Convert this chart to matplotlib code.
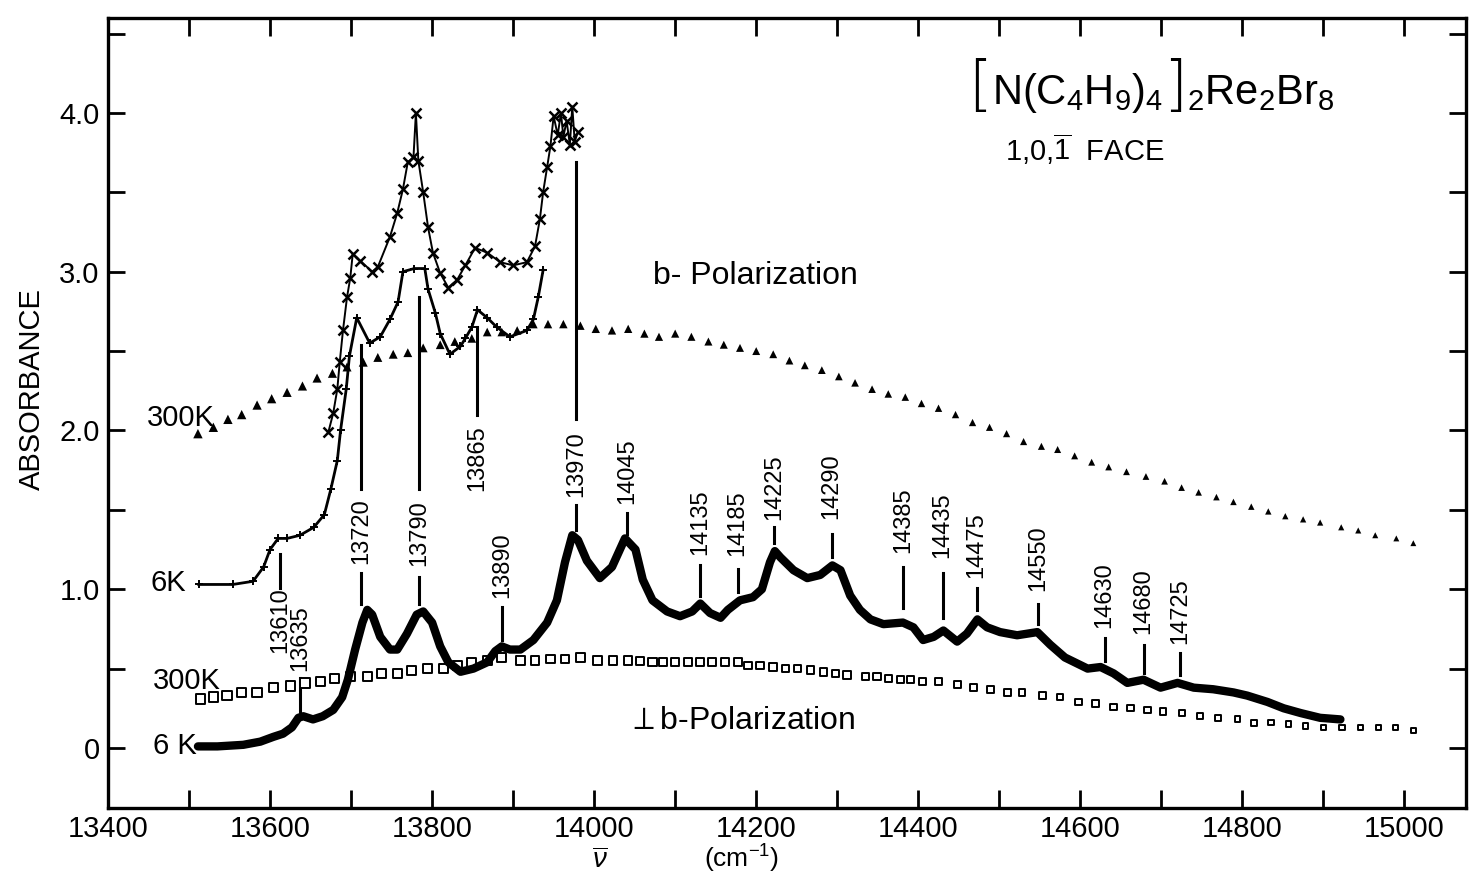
import matplotlib
matplotlib.use('Agg')
import matplotlib.pyplot as plt
import numpy as np
from matplotlib.ticker import MultipleLocator
from matplotlib.offsetbox import TextArea, HPacker, AnnotationBbox

plt.rcParams['font.family'] = ['Liberation Sans', 'DejaVu Sans']
plt.rcParams['mathtext.fontset'] = 'custom'
plt.rcParams['mathtext.rm'] = 'Liberation Sans'
plt.rcParams['mathtext.it'] = 'Liberation Sans:italic'
plt.rcParams['mathtext.bf'] = 'Liberation Sans:bold'

# ---------------- data (wavenumber cm^-1, absorbance) ----------------
bpol_300K_x = [13511, 13530, 13548, 13565, 13584, 13602, 13621, 13640, 13658, 13677, 13695,
               13715, 13733, 13752, 13770, 13789, 13810, 13828, 13849, 13868, 13886, 13905,
               13925, 13943, 13962, 13983, 14002, 14022, 14042, 14062, 14080, 14100, 14120,
               14141, 14160, 14180, 14200, 14221, 14241, 14260, 14281, 14302, 14322, 14343,
               14363, 14384, 14404, 14425, 14446, 14467, 14488, 14509, 14530, 14552,
               14572, 14593, 14614, 14635, 14657, 14681, 14704, 14725, 14746, 14768,
               14789, 14811, 14832, 14853, 14875, 14896, 14922, 14943, 14964, 14990, 15011]
bpol_300K_y = [1.98, 2.02, 2.07, 2.10, 2.16, 2.20, 2.24, 2.28, 2.33, 2.36, 2.40,
               2.43, 2.46, 2.48, 2.49, 2.52, 2.54, 2.56, 2.58, 2.62, 2.62, 2.63,
               2.67, 2.67, 2.67, 2.66, 2.64, 2.63, 2.64, 2.61, 2.59, 2.61, 2.59,
               2.56, 2.54, 2.52, 2.50, 2.48, 2.44, 2.41, 2.38, 2.34, 2.30, 2.26,
               2.23, 2.21, 2.17, 2.14, 2.10, 2.05, 2.02, 1.98, 1.93, 1.90,
               1.88, 1.84, 1.80, 1.77, 1.74, 1.71, 1.68, 1.64, 1.61, 1.58,
               1.55, 1.52, 1.49, 1.46, 1.44, 1.42, 1.39, 1.37, 1.34, 1.32, 1.29]

bpol_6K_x = [13512, 13554, 13579, 13592, 13600, 13610, 13621, 13637, 13654, 13667,
             13675, 13683, 13687, 13694, 13698, 13707, 13723, 13736, 13748, 13758,
             13764, 13778, 13791, 13795, 13804, 13810, 13822, 13835, 13841, 13849,
             13856, 13868, 13880, 13896, 13917, 13925, 13931, 13937]
bpol_6K_y = [1.03, 1.03, 1.05, 1.14, 1.25, 1.32, 1.32, 1.34, 1.39, 1.47,
             1.63, 1.81, 2.00, 2.26, 2.47, 2.71, 2.55, 2.59, 2.70, 2.81,
             3.00, 3.02, 3.02, 2.89, 2.74, 2.61, 2.48, 2.53, 2.58, 2.65,
             2.76, 2.71, 2.65, 2.59, 2.63, 2.70, 2.84, 3.01]

bpol_6K_thick_x = [13672, 13678, 13683, 13686, 13690, 13695, 13699, 13702, 13711, 13726,
                   13733, 13748, 13757, 13764, 13770, 13777, 13780, 13783, 13789, 13795,
                   13801, 13810, 13820, 13831, 13841, 13853, 13868, 13884, 13900, 13917,
                   13927, 13933, 13937, 13942, 13946, 13950, 13955, 13959, 13962, 13966,
                   13970, 13973, 13976, 13980]
bpol_6K_thick_y = [1.99, 2.11, 2.26, 2.43, 2.63, 2.84, 2.96, 3.11, 3.07, 3.00,
                   3.03, 3.22, 3.37, 3.52, 3.69, 3.72, 4.00, 3.70, 3.50, 3.28,
                   3.12, 2.99, 2.90, 2.95, 3.04, 3.15, 3.12, 3.06, 3.04, 3.06,
                   3.16, 3.33, 3.50, 3.66, 3.79, 3.98, 3.86, 4.00, 3.85, 3.95,
                   3.80, 4.04, 3.82, 3.88]

perp_300K_x = [13514, 13530, 13547, 13565, 13584, 13604, 13625, 13643, 13662, 13680,
               13699, 13720, 13738, 13757, 13775, 13794, 13814, 13831, 13849, 13868,
               13886, 13909, 13927, 13946, 13964, 13983, 14004, 14023, 14042, 14057,
               14072, 14085, 14100, 14116, 14131, 14146, 14162, 14177, 14190, 14205,
               14221, 14236, 14251, 14267, 14283, 14298, 14312, 14335, 14349, 14363,
               14378, 14390, 14405, 14425, 14448, 14468, 14489, 14510, 14528, 14553,
               14575, 14598, 14619, 14641, 14662, 14683, 14702, 14726, 14748, 14770,
               14794, 14814, 14835, 14857, 14878, 14900, 14923, 14946, 14968, 14989, 15011]
perp_300K_y = [0.31, 0.32, 0.33, 0.35, 0.35, 0.38, 0.39, 0.41, 0.42, 0.44,
               0.45, 0.45, 0.47, 0.47, 0.49, 0.50, 0.50, 0.52, 0.54, 0.55,
               0.57, 0.55, 0.55, 0.56, 0.56, 0.57, 0.55, 0.55, 0.55, 0.55,
               0.54, 0.54, 0.54, 0.54, 0.54, 0.54, 0.54, 0.54, 0.52, 0.52,
               0.51, 0.50, 0.50, 0.49, 0.48, 0.47, 0.46, 0.45, 0.45, 0.44,
               0.43, 0.43, 0.42, 0.42, 0.40, 0.38, 0.37, 0.35, 0.35, 0.33,
               0.32, 0.29, 0.28, 0.26, 0.25, 0.24, 0.23, 0.22, 0.20, 0.19,
               0.18, 0.16, 0.16, 0.15, 0.14, 0.13, 0.13, 0.13, 0.13, 0.13, 0.11]

perp_6K_x = [13511, 13535, 13567, 13588, 13604, 13616, 13627, 13635, 13641, 13653,
             13665, 13678, 13689, 13696, 13705, 13714, 13720, 13726, 13736, 13748,
             13757, 13769, 13781, 13789, 13800, 13810, 13820, 13835, 13851, 13868,
             13878, 13886, 13896, 13909, 13925, 13942, 13954, 13964, 13973, 13980,
             13991, 14007, 14022, 14038, 14051, 14060, 14072, 14090, 14106, 14121,
             14131, 14143, 14156, 14165, 14180, 14196, 14207, 14217, 14223, 14230,
             14246, 14263, 14279, 14294, 14304, 14316, 14328, 14341, 14357, 14381,
             14394, 14406, 14419, 14431, 14448, 14460, 14473, 14485, 14501, 14522,
             14547, 14563, 14581, 14609, 14625, 14641, 14658, 14678, 14699, 14720,
             14740, 14764, 14789, 14806, 14831, 14851, 14872, 14896, 14921]
perp_6K_y = [0.01, 0.01, 0.02, 0.04, 0.07, 0.09, 0.13, 0.19, 0.20, 0.18,
             0.20, 0.24, 0.32, 0.43, 0.62, 0.79, 0.87, 0.84, 0.70, 0.62,
             0.62, 0.72, 0.84, 0.86, 0.79, 0.64, 0.54, 0.48, 0.50, 0.54,
             0.61, 0.64, 0.62, 0.62, 0.68, 0.79, 0.93, 1.17, 1.34, 1.31,
             1.18, 1.07, 1.14, 1.32, 1.25, 1.06, 0.93, 0.86, 0.83, 0.86,
             0.91, 0.85, 0.82, 0.87, 0.93, 0.95, 1.00, 1.17, 1.24, 1.20,
             1.12, 1.07, 1.09, 1.15, 1.12, 0.96, 0.87, 0.81, 0.78, 0.79,
             0.76, 0.68, 0.70, 0.74, 0.67, 0.72, 0.81, 0.76, 0.73, 0.71,
             0.73, 0.65, 0.57, 0.50, 0.51, 0.47, 0.41, 0.43, 0.38, 0.41,
             0.38, 0.37, 0.35, 0.33, 0.29, 0.25, 0.22, 0.19, 0.18]

peak_labels = ['13610', '13635', '13720', '13790', '13865', '13890', '13970', '14045',
               '14135', '14185', '14225', '14290', '14385', '14435', '14475', '14550',
               '14630', '14680', '14725']

x_tick_values = [13400, 13600, 13800, 14000, 14200, 14400, 14600, 14800, 15000]
y_tick_values = [0, 1, 2, 3, 4]
y_tick_labels = ['0', '1.0', '2.0', '3.0', '4.0']

# ---------------- layout of peak markers: (x, label bottom, label top, line segments) ----
peak_layout = [
    (13612, 0.60, 1.01, [(1.01, 1.22)]),
    (13637, 0.49, 0.89, [(0.22, 0.44)]),
    (13712, 1.15, 1.58, [(0.91, 1.10), (1.63, 2.54)]),
    (13784, 1.13, 1.58, [(0.91, 1.08), (1.63, 2.84)]),
    (13856, 1.58, 2.07, [(2.10, 2.65)]),
    (13886, 0.91, 1.39, [(0.68, 0.89)]),
    (13978, 1.56, 2.02, [(1.37, 1.53), (2.07, 3.69)]),
    (14041, 1.50, 1.99, [(1.35, 1.48)]),
    (14131, 1.20, 1.64, [(0.96, 1.15)]),
    (14177, 1.20, 1.63, [(0.98, 1.13)]),
    (14222, 1.42, 1.86, [(1.29, 1.39)]),
    (14293, 1.42, 1.88, [(1.20, 1.35)]),
    (14381, 1.20, 1.67, [(0.88, 1.14)]),
    (14430, 1.17, 1.64, [(0.82, 1.10)]),
    (14472, 1.03, 1.52, [(0.87, 1.01)]),
    (14548, 0.95, 1.44, [(0.78, 0.91)]),
    (14630, 0.72, 1.20, [(0.55, 0.69)]),
    (14678, 0.70, 1.15, [(0.47, 0.65)]),
    (14723, 0.64, 1.09, [(0.46, 0.60)]),
]

fig = plt.figure(figsize=(14.7, 8.73), dpi=100)
ax = fig.add_axes([108 / 1470, 65 / 873, (1466 - 108) / 1470, (808 - 18) / 873])
ax.set_xlim(13400, 15076)
ax.set_ylim(-0.378, 4.598)

# b-polarization 300K : dotted triangles (shrinking toward high energy as in the original)
tri_sizes = np.linspace(46, 18, len(bpol_300K_x))
ax.scatter(bpol_300K_x, bpol_300K_y, s=tri_sizes, marker='^', color='k', linewidths=0)
# b-polarization 6K (two traces)
ax.plot(bpol_6K_x, bpol_6K_y, ls='-', lw=2.0, marker='+', ms=6, mew=1.4, color='k')
ax.plot(bpol_6K_thick_x, bpol_6K_thick_y, ls='-', lw=1.4, marker='x', ms=7, mew=1.8, color='k')
# perp b-polarization 300K : open markers, shrinking toward high energy
sq_sizes = np.linspace(48, 14, len(perp_300K_x))
ax.scatter(perp_300K_x, perp_300K_y, s=sq_sizes, marker='s', facecolors='white',
           edgecolors='k', linewidths=1.4, zorder=3)
# perp b-polarization 6K : heavy line
ax.plot(perp_6K_x, perp_6K_y, ls='-', lw=6, color='k', solid_capstyle='round',
        solid_joinstyle='round', zorder=4)

# peak annotations
for lab, (px, lo, hi, segs) in zip(peak_labels, peak_layout):
    ax.text(px, (lo + hi) / 2, lab, rotation=90, ha='center', va='center', fontsize=17)
    for y0, y1 in segs:
        ax.plot([px, px], [y0, y1], color='k', lw=2.2)

# curve labels
ax.text(13448, 2.08, '300K', fontsize=21, ha='left', va='center')
ax.text(13452, 1.04, '6K', fontsize=21, ha='left', va='center')
ax.text(13455, 0.42, '300K', fontsize=21, ha='left', va='center')
ax.text(13455, 0.01, '6 K', fontsize=21, ha='left', va='center')

ax.text(14073, 2.97, 'b- Polarization', fontsize=23, ha='left', va='center')
ax.text(14040, 0.17, r'$\perp$b-Polarization', fontsize=23, ha='left', va='center')

# compound formula with tall brackets
formula = HPacker(children=[
    TextArea('[', textprops=dict(fontsize=44, family='DejaVu Sans', fontweight='light')),
    TextArea(r'N(C$_4$H$_9$)$_4$', textprops=dict(fontsize=30)),
    TextArea(']', textprops=dict(fontsize=44, family='DejaVu Sans', fontweight='light')),
    TextArea(r'$_2$Re$_2$Br$_8$', textprops=dict(fontsize=30)),
], align='baseline', pad=0, sep=0)
ab = AnnotationBbox(formula, (14462, 4.16), xycoords='data', box_alignment=(0, 0.5),
                    frameon=False, pad=0)
ax.add_artist(ab)
ax.text(14507, 3.77, r'1,0,$\overline{1}$  FACE', fontsize=21, ha='left', va='center')

# axes styling
ax.set_xticks(x_tick_values)
ax.set_xticklabels([str(v) for v in x_tick_values])
ax.xaxis.set_minor_locator(MultipleLocator(100))
ax.set_yticks(y_tick_values)
ax.set_yticklabels(y_tick_labels)
ax.yaxis.set_minor_locator(MultipleLocator(0.5))
ax.tick_params(axis='x', which='both', direction='in', top=True, bottom=True,
               length=13, width=2, labelsize=21, pad=5)
ax.tick_params(axis='y', which='both', direction='in', left=True, right=True,
               length=12, width=2, labelsize=21, pad=6)
for s in ax.spines.values():
    s.set_linewidth(2.4)

ax.set_ylabel('ABSORBANCE', fontsize=21)
ax.yaxis.set_label_coords(-0.046, 0.53)
fig.text(600 / 1470, 1 - 861 / 873, r'$\overline{\nu}$', fontsize=20, ha='center', va='center')
fig.text(742 / 1470, 1 - 859 / 873, r'(cm$^{-1}$)', fontsize=19, ha='center', va='center')

fig.savefig('out.png', dpi=100)
